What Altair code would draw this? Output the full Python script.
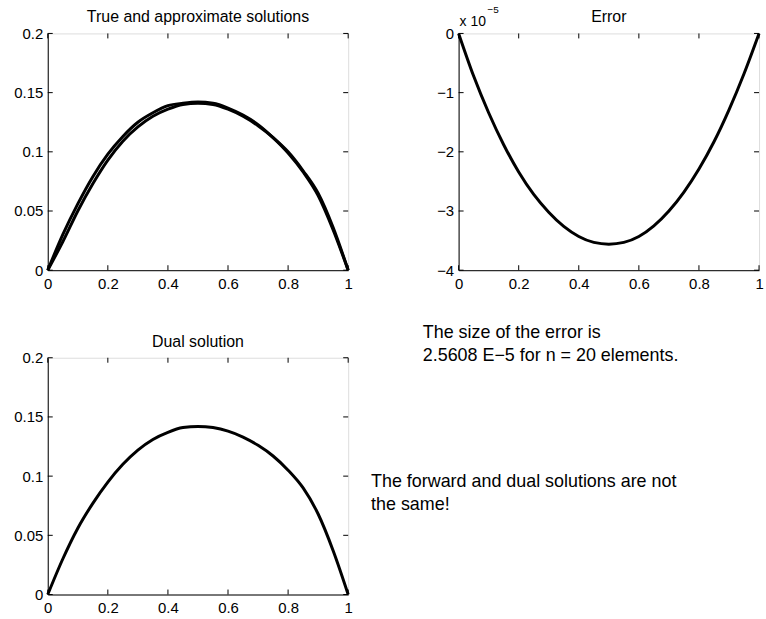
import altair as alt
import pandas as pd

# Mesh nodes for n = 20 linear elements on [0, 1]
x_nodes = [0.0, 0.05, 0.1, 0.15, 0.2, 0.25, 0.3, 0.35, 0.4, 0.45, 0.5,
           0.55, 0.6, 0.65, 0.7, 0.75, 0.8, 0.85, 0.9, 0.95, 1.0]

# Forward problem: true and finite element solutions
u_true = [0.0, 0.030, 0.056, 0.079, 0.098, 0.113, 0.125, 0.133, 0.139, 0.141, 0.142,
          0.141, 0.137, 0.131, 0.123, 0.112, 0.099, 0.083, 0.063, 0.034, 0.0]
u_approx = [0.0, 0.024, 0.050, 0.073, 0.093, 0.109, 0.121, 0.130, 0.136, 0.140, 0.141,
            0.140, 0.136, 0.130, 0.122, 0.112, 0.100, 0.084, 0.065, 0.036, 0.0]

# Pointwise error (units of 1e-5)
err = [0.0, -0.72, -1.34, -1.88, -2.34, -2.72, -3.02, -3.26, -3.43, -3.53, -3.56,
       -3.53, -3.43, -3.25, -3.00, -2.68, -2.29, -1.83, -1.29, -0.68, 0.0]

# Dual solution
u_dual = [0.0, 0.030, 0.056, 0.077, 0.095, 0.110, 0.122, 0.131, 0.137, 0.141, 0.142,
          0.141, 0.138, 0.133, 0.126, 0.117, 0.105, 0.090, 0.068, 0.037, 0.0]

x_ticks = [0, 0.2, 0.4, 0.6, 0.8, 1]
sol_ticks = [0, 0.05, 0.1, 0.15, 0.2]
err_ticks = [0, -1, -2, -3, -4]

W, H = 302, 238
FONT = "Liberation Sans"
TICK_LEN = 5
LABEL_SIZE = 15

one = pd.DataFrame({"k": [0]})


def text_at(text, x, y, size, align="left", baseline="alphabetic", **kw):
    return alt.Chart(one).mark_text(text=text, font=FONT, fontSize=size, align=align,
                                    baseline=baseline, color="black", **kw).encode(
        x=alt.value(x), y=alt.value(y))


def panel(series, y_ticks, title, extra=(), width=3):
    xs = alt.Scale(domain=[0, 1], nice=False, zero=False)
    ys = alt.Scale(domain=[min(y_ticks), max(y_ticks)], nice=False, zero=False)
    x_axis = alt.Axis(values=x_ticks, format="~g", title=None, ticks=False, grid=False,
                      labelPadding=6, labelFontSize=LABEL_SIZE, labelFont=FONT,
                      labelColor="black", domainColor="black", labelFlush=False)
    y_axis = alt.Axis(values=y_ticks, format="~g", title=None, ticks=False, grid=False,
                      labelPadding=5, labelFontSize=LABEL_SIZE, labelFont=FONT,
                      labelColor="black", domainColor="black", labelFlush=False)

    layers = []
    for vals in series:
        df = pd.DataFrame({"x": x_nodes, "y": vals})
        layers.append(alt.Chart(df).mark_line(color="black", strokeWidth=width,
                                              interpolate="monotone").encode(
            x=alt.X("x:Q", scale=xs, axis=x_axis),
            y=alt.Y("y:Q", scale=ys, axis=y_axis)))

    # inward tick marks on all four sides of the box
    xt = pd.DataFrame({"x": x_ticks})
    yt = pd.DataFrame({"y": y_ticks})
    tick_style = dict(color="black", strokeWidth=1)
    layers += [
        alt.Chart(xt).mark_rule(**tick_style).encode(
            x=alt.X("x:Q", scale=xs), y=alt.value(0), y2=alt.value(TICK_LEN)),
        alt.Chart(xt).mark_rule(**tick_style).encode(
            x=alt.X("x:Q", scale=xs), y=alt.value(H - TICK_LEN), y2=alt.value(H)),
        alt.Chart(yt).mark_rule(**tick_style).encode(
            y=alt.Y("y:Q", scale=ys), x=alt.value(0), x2=alt.value(TICK_LEN)),
        alt.Chart(yt).mark_rule(**tick_style).encode(
            y=alt.Y("y:Q", scale=ys), x=alt.value(W - TICK_LEN), x2=alt.value(W)),
    ]
    layers.append(text_at(title, W / 2, -11, 16, align="center"))
    return alt.layer(*layers, *extra).properties(width=W, height=H)


top_left = panel([u_true, u_approx], sol_ticks, "True and approximate solutions")

top_right = panel([err], err_ticks, "Error", extra=(
    text_at("x 10", 1, -7, 14),
    text_at("\u22125", 29, -21, 10),
))

bottom_left = panel([u_dual], sol_ticks, "Dual solution")

note_style = dict(lineHeight=23)
notes = alt.layer(
    text_at(["The size of the error is", "2.5608 E\u22125 for n = 20 elements."],
            -36, -25, 18, baseline="middle", **note_style),
    text_at(["The forward and dual solutions are not", "the same!"],
            -88, 125, 18, baseline="middle", **note_style),
).properties(width=W, height=H, view=alt.ViewBackground(stroke="transparent"))

chart = alt.concat(top_left, top_right, bottom_left, notes, columns=2,
                   spacing={"row": 88, "column": 111}, bounds="flush").properties(
    padding={"left": 13, "top": 2, "right": 0, "bottom": 0}
).configure_view(stroke="black", strokeWidth=1).configure(background="white")

chart.save("out.html", embed_options={"renderer": "svg", "actions": False})
